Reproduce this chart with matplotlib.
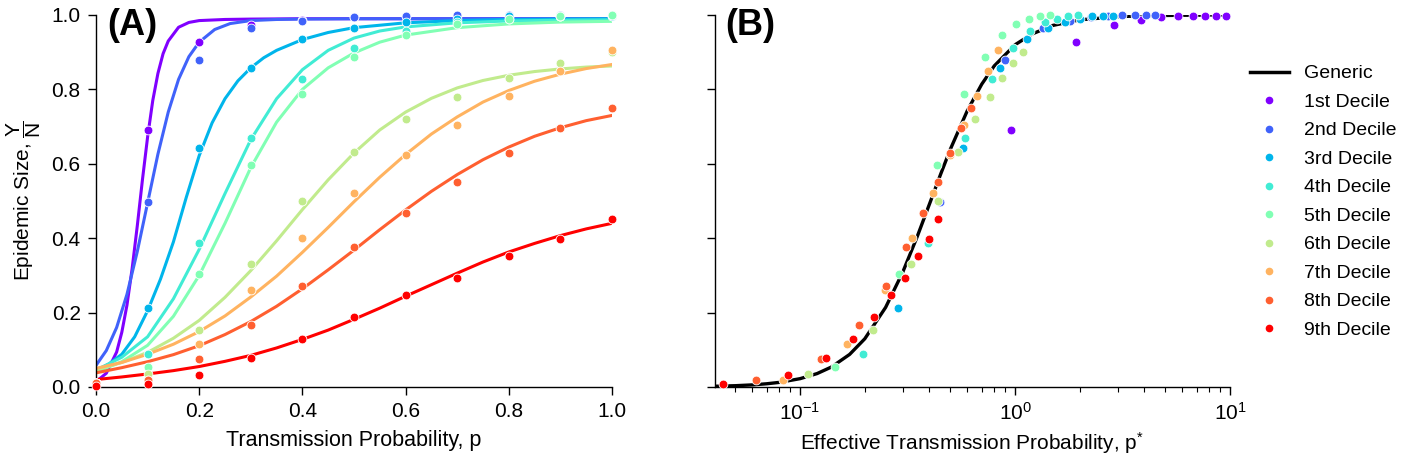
import matplotlib
matplotlib.use("Agg")
import matplotlib.pyplot as plt
from matplotlib.lines import Line2D

plt.rcParams['font.family'] = ['Liberation Sans', 'DejaVu Sans']
plt.rcParams['mathtext.fontset'] = 'custom'
plt.rcParams['mathtext.rm'] = 'Liberation Sans'
plt.rcParams['mathtext.it'] = 'Liberation Sans:italic'
plt.rcParams['mathtext.bf'] = 'Liberation Sans:bold'

# datos: tamano de epidemia por decil
p_vals = [0.0, 0.1, 0.2, 0.3, 0.4, 0.5, 0.6, 0.7, 0.8, 0.9, 1.0]
labels = ['1st Decile', '2nd Decile', '3rd Decile', '4th Decile', '5th Decile',
          '6th Decile', '7th Decile', '8th Decile', '9th Decile']

d1 = [0.01, 0.69, 0.928, 0.973, 0.987, 0.994, 0.997, 0.997, 0.997, 0.997, 0.997]
d2 = [0.01, 0.496, 0.88, 0.964, 0.985, 0.995, 0.998, 0.999, 0.999, 0.999, 0.999]
d3 = [0.01, 0.213, 0.642, 0.858, 0.935, 0.965, 0.982, 0.99, 0.997, 0.998, 0.998]
d4 = [0.01, 0.09, 0.387, 0.669, 0.829, 0.912, 0.958, 0.98, 0.99, 0.998, 0.999]
d5 = [0.01, 0.053, 0.303, 0.598, 0.788, 0.888, 0.947, 0.975, 0.99, 0.996, 0.999]
d6 = [0.01, 0.035, 0.154, 0.331, 0.501, 0.631, 0.72, 0.78, 0.83, 0.87, 0.90]
d7 = [0.01, 0.02, 0.116, 0.261, 0.40, 0.521, 0.624, 0.704, 0.782, 0.85, 0.905]
d8 = [0.01, 0.018, 0.076, 0.168, 0.271, 0.377, 0.467, 0.552, 0.63, 0.695, 0.75]
d9 = [0.004, 0.007, 0.033, 0.079, 0.128, 0.187, 0.247, 0.294, 0.352, 0.399, 0.452]
deciles = [d1, d2, d3, d4, d5, d6, d7, d8, d9]

# factor de escala p -> p*
scales = [9.6, 4.5, 2.85, 1.96, 1.45, 1.09, 0.83, 0.625, 0.44]

# curvas ajustadas
x1 = [0, 0.02, 0.04, 0.05, 0.06, 0.07, 0.08, 0.09, 0.1, 0.11, 0.12, 0.13, 0.14, 0.16, 0.18, 0.2, 0.25, 0.3, 0.4, 0.6, 0.8, 1.0]
y1 = [0.014, 0.037, 0.094, 0.147, 0.22, 0.318, 0.433, 0.557, 0.672, 0.77, 0.843, 0.896, 0.93, 0.967, 0.98, 0.985, 0.988, 0.989, 0.99, 0.99, 0.99, 0.99]
x2 = [0, 0.02, 0.04, 0.06, 0.08, 0.1, 0.12, 0.14, 0.16, 0.18, 0.2, 0.23, 0.26, 0.3, 0.35, 0.4, 0.5, 0.7, 1.0]
y2 = [0.058, 0.098, 0.16, 0.249, 0.364, 0.495, 0.626, 0.739, 0.827, 0.888, 0.927, 0.961, 0.977, 0.985, 0.988, 0.989, 0.99, 0.99, 0.99]
x3 = [0, 0.025, 0.05, 0.075, 0.1, 0.125, 0.15, 0.175, 0.2, 0.225, 0.25, 0.275, 0.3, 0.325, 0.35, 0.4, 0.45, 0.5, 0.6, 0.7, 0.8, 0.9, 1.0]
y3 = [0.045, 0.062, 0.088, 0.135, 0.205, 0.29, 0.39, 0.51, 0.622, 0.71, 0.775, 0.823, 0.858, 0.885, 0.905, 0.934, 0.953, 0.966, 0.979, 0.985, 0.988, 0.989, 0.99]
x4 = [0, 0.05, 0.1, 0.15, 0.2, 0.25, 0.3, 0.35, 0.4, 0.45, 0.5, 0.55, 0.6, 0.7, 0.8, 0.9, 1.0]
y4 = [0.045, 0.08, 0.135, 0.237, 0.37, 0.52, 0.665, 0.775, 0.853, 0.905, 0.938, 0.957, 0.968, 0.979, 0.984, 0.986, 0.987]
x5 = [0, 0.05, 0.1, 0.15, 0.2, 0.25, 0.3, 0.35, 0.4, 0.45, 0.5, 0.55, 0.6, 0.7, 0.8, 0.9, 1.0]
y5 = [0.04, 0.068, 0.112, 0.19, 0.30, 0.44, 0.59, 0.712, 0.80, 0.858, 0.898, 0.927, 0.946, 0.966, 0.976, 0.981, 0.983]
x_slow = [0, 0.05, 0.1, 0.15, 0.2, 0.25, 0.3, 0.35, 0.4, 0.45, 0.5,
          0.55, 0.6, 0.65, 0.7, 0.75, 0.8, 0.85, 0.9, 0.95, 1.0]
y6 = [0.046, 0.066, 0.093, 0.131, 0.179, 0.241, 0.313, 0.393, 0.477, 0.557, 0.629,
      0.691, 0.739, 0.776, 0.804, 0.824, 0.838, 0.848, 0.855, 0.86, 0.863]
y7 = [0.05, 0.066, 0.088, 0.115, 0.149, 0.191, 0.242, 0.298, 0.362, 0.429, 0.498,
      0.564, 0.625, 0.68, 0.726, 0.766, 0.797, 0.822, 0.841, 0.856, 0.867]
y8 = [0.038, 0.052, 0.068, 0.087, 0.111, 0.141, 0.176, 0.217, 0.264, 0.315, 0.368,
      0.423, 0.476, 0.526, 0.571, 0.611, 0.645, 0.674, 0.697, 0.716, 0.73]
y9 = [0.02, 0.027, 0.035, 0.044, 0.055, 0.069, 0.085, 0.105, 0.128, 0.153, 0.182,
      0.212, 0.244, 0.275, 0.306, 0.336, 0.363, 0.386, 0.407, 0.425, 0.44]
fit_x = [x1, x2, x3, x4, x5, x_slow, x_slow, x_slow, x_slow]
fit_y = [y1, y2, y3, y4, y5, y6, y7, y8, y9]

# curva generica (panel B)
gen_x = [0.04, 0.05, 0.06, 0.07, 0.08, 0.1, 0.12, 0.14, 0.17, 0.2, 0.25, 0.3, 0.35, 0.4,
         0.45, 0.5, 0.6, 0.7, 0.8, 1.0, 1.2, 1.5, 2.0, 3.0, 4.0, 6.0, 10.0]
gen_y = [0.002, 0.0035, 0.0057, 0.0087, 0.0124, 0.0224, 0.0361, 0.0538, 0.0876, 0.1296,
         0.214, 0.308, 0.403, 0.492, 0.571, 0.639, 0.743, 0.814, 0.863, 0.92, 0.949,
         0.972, 0.987, 0.9955, 0.998, 0.9993, 0.9998]

colors = plt.cm.rainbow([i / 8 for i in range(9)])

fig = plt.figure(figsize=(14.01, 4.58), dpi=100)
axA = fig.add_axes([96 / 1401, 71 / 458, 516 / 1401, 372 / 458])
axB = fig.add_axes([715 / 1401, 71 / 458, 515 / 1401, 372 / 458])

for i in range(9):
    axA.plot(fit_x[i], fit_y[i], color=colors[i], lw=2.2, zorder=2)
for i in range(9):
    axA.scatter(p_vals, deciles[i], s=40, color=colors[i], edgecolors='white',
                linewidths=0.6, zorder=3, clip_on=False)

axB.plot(gen_x, gen_y, color='black', lw=2.4, zorder=2)
for i in range(9):
    ps = [p * scales[i] for p in p_vals[1:]]
    axB.scatter(ps, deciles[i][1:], s=40, color=colors[i], edgecolors='white',
                linewidths=0.6, zorder=3, clip_on=False)

for ax in (axA, axB):
    ax.spines['top'].set_visible(False)
    ax.spines['right'].set_visible(False)
    ax.spines['left'].set_linewidth(1.0)
    ax.spines['bottom'].set_linewidth(1.0)
    ax.set_ylim(0, 1)
    ax.set_yticks([0, 0.2, 0.4, 0.6, 0.8, 1.0])
    ax.tick_params(which='major', length=6, width=1.0, labelsize=15, pad=5)
    ax.tick_params(which='minor', length=3.5, width=0.8)

axA.set_xlim(0, 1)
axA.set_xticks([0, 0.2, 0.4, 0.6, 0.8, 1.0])
axA.set_xlabel('Transmission Probability, p', fontsize=15.5, labelpad=6)
axA.set_ylabel(r'Epidemic Size, $\dfrac{\mathrm{Y}}{\mathrm{N}}$', fontsize=15, labelpad=6)

axB.set_xscale('log')
axB.set_xlim(0.0402, 10)
axB.tick_params(labelleft=False)
axB.set_xlabel(r'Effective Transmission Probability, $\mathrm{p}^{*}$', fontsize=15)

fig.text(107 / 1401, 1 - 35 / 458, '(A)', fontsize=26, fontweight='bold')
fig.text(725 / 1401, 1 - 35 / 458, '(B)', fontsize=26, fontweight='bold')

handles = [Line2D([0], [0], color='black', lw=2.5)]
for i in range(9):
    handles.append(Line2D([0], [0], marker='o', ls='', color=colors[i], markersize=4.5))
fig.legend(handles, ['Generic'] + labels, loc='upper left',
           bbox_to_anchor=(1242 / 1401, 1 - 57 / 458), frameon=False, fontsize=14,
           borderaxespad=0, labelspacing=0.56)

fig.savefig('out.png', dpi=100)
plt.close()
